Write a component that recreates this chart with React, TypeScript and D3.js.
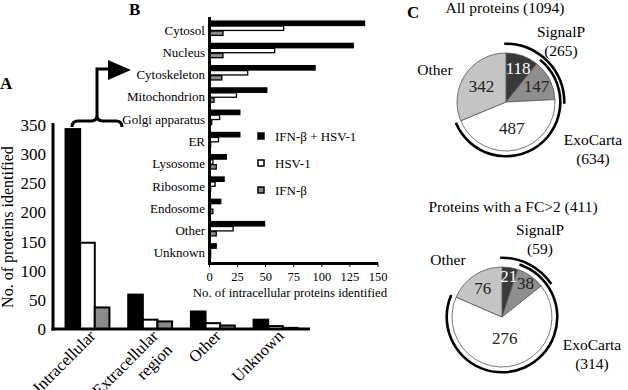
import React from 'react'
import * as d3 from 'd3'

// shared series (panels A and B)
const seriesLabels = ['IFN-β + HSV-1', 'HSV-1', 'IFN-β']
const seriesFills = ['#000000', '#ffffff', '#8a8a8a']

// panel A: subcellular location of all identified proteins
const locationCategories = ['Intracellular', 'Extracellular region', 'Other', 'Unknown']
const locationCombined = [343, 59, 30, 16]
const locationHsv = [148, 16, 10, 5]
const locationIfn = [37, 13, 6, 2]
const locationTicks = [0, 50, 100, 150, 200, 250, 300, 350]

// panel B: intracellular compartments
const compartmentCategories = ['Cytosol', 'Nucleus', 'Cytoskeleton', 'Mitochondrion', 'Golgi apparatus', 'ER', 'Lysosome', 'Ribosome', 'Endosome', 'Other', 'Unknown']
const compartmentCombined = [138, 128, 94, 51, 27, 27, 15, 13, 10, 49, 6]
const compartmentHsv = [66, 58, 34, 24, 9, 8, 3, 5, 1, 21, 1]
const compartmentIfn = [12, 12, 11, 4, 2, 1, 6, 1, 3, 6, 1]
const compartmentTicks = [0, 25, 50, 75, 100, 125, 150]

// panel C: SignalP / ExoCarta overlap (SignalP only, both, ExoCarta only, other)
const allProteinsTitle = 'All proteins (1094)'
const allProteinsSlices = [118, 147, 487, 342]
const fcProteinsTitle = 'Proteins with a FC>2 (411)'
const fcProteinsSlices = [21, 38, 276, 76]
const sliceFills = ['#3a3a3a', '#8e8e8e', '#ffffff', '#c4c4c4']
const sliceTextFills = ['#ffffff', '#222222', '#222222', '#222222']

const FONT = "'Liberation Serif', 'Times New Roman', 'DejaVu Serif', serif"

/**
 * Panel A: grouped vertical bars
 */
const LocationChart = () => {
    const x = d3.scaleBand().domain(locationCategories).range([53, 310]).paddingInner(0.3).paddingOuter(0.2)
    const xSeries = d3.scaleBand().domain(seriesLabels).range([0, x.bandwidth()])
    const y = d3.scaleLinear().domain([0, 350]).range([329, 125])
    const series = [locationCombined, locationHsv, locationIfn]

    return (
        <g>
            {locationCategories.map((cat, i) => (
                <g key={cat} transform={`translate(${x(cat)}, 0)`}>
                    {series.map((values, s) => (
                        <rect
                            key={s}
                            x={xSeries(seriesLabels[s])}
                            y={y(values[i])}
                            width={xSeries.bandwidth()}
                            height={y(0) - y(values[i])}
                            fill={seriesFills[s]}
                            stroke='#000'
                            strokeWidth={2}
                        />
                    ))}
                </g>
            ))}
            <line x1={53} x2={53} y1={123} y2={330.5} stroke='#000' strokeWidth={3} />
            <line x1={51.5} x2={310} y1={329} y2={329} stroke='#000' strokeWidth={3} />
            {locationTicks.map(t => (
                <text key={t} x={46} y={y(t)} dy='0.35em' textAnchor='end' fontSize={17}>{t}</text>
            ))}
            <text transform='translate(13, 227) rotate(-90)' textAnchor='middle' fontSize={16}>
                No. of proteins identified
            </text>
            {locationCategories.map(cat => (
                <text
                    key={cat}
                    transform={`translate(${x(cat) + x.bandwidth() / 2 + 9}, 337) rotate(-45)`}
                    textAnchor='end'
                    fontSize={16.5}
                >
                    {cat.split(' ').map((line, k) => (
                        <tspan key={k} x={0} dy={k === 0 ? 0 : '1.2em'}>{line}</tspan>
                    ))}
                </text>
            ))}
            <text x={0} y={89} fontSize={17} fontWeight='bold'>A</text>
            {/* brace over the intracellular bars and the arrow into panel B */}
            <path
                d='M72,127 Q72,121 78,121 L91,121 Q97,121 97,115 Q97,121 103,121 L116,121 Q122,121 122,127'
                fill='none'
                stroke='#000'
                strokeWidth={3}
            />
            <path d='M97,115 L97,69 L110,69' fill='none' stroke='#000' strokeWidth={3} />
            <path d='M108,60 L131,70 L108,80 Z' fill='#000' />
        </g>
    )
}

/**
 * Panel B: grouped horizontal bars
 */
const CompartmentChart = () => {
    const y = d3.scaleBand().domain(compartmentCategories).range([18, 263])
    const ySeries = d3.scaleBand().domain(seriesLabels).range([2.5, 18]).padding(0.12)
    const x = d3.scaleLinear().domain([0, 150]).range([209.5, 378])
    const series = [compartmentCombined, compartmentHsv, compartmentIfn]

    return (
        <g>
            {compartmentCategories.map((cat, i) => (
                <g key={cat} transform={`translate(0, ${y(cat)})`}>
                    {series.map((values, s) => (
                        <rect
                            key={s}
                            x={x(0)}
                            y={ySeries(seriesLabels[s])}
                            width={x(values[i]) - x(0)}
                            height={ySeries.bandwidth()}
                            fill={seriesFills[s]}
                            stroke='#000'
                            strokeWidth={1.3}
                        />
                    ))}
                    <text x={205} y={y.bandwidth() / 2 + 1} dy='0.35em' textAnchor='end' fontSize={13}>{cat}</text>
                </g>
            ))}
            <line x1={209.5} x2={209.5} y1={17} y2={264.5} stroke='#000' strokeWidth={3} />
            <line x1={208} x2={378} y1={263.5} y2={263.5} stroke='#000' strokeWidth={3} />
            {compartmentTicks.map(t => (
                <g key={t}>
                    <line x1={x(t)} x2={x(t)} y1={263} y2={267} stroke='#000' strokeWidth={1} />
                    <text x={x(t)} y={281} textAnchor='middle' fontSize={12.5}>{t}</text>
                </g>
            ))}
            <text x={290} y={297} textAnchor='middle' fontSize={12.8}>No. of intracellular proteins identified</text>
            <text x={129} y={15} fontSize={17} fontWeight='bold'>B</text>
            {seriesLabels.map((label, s) => (
                <g key={label} transform={`translate(258, ${133 + s * 27})`}>
                    <rect width={6} height={6} fill={seriesFills[s]} stroke='#000' strokeWidth={1.5} />
                    <text x={17} y={3} dy='0.35em' fontSize={13}>{label}</text>
                </g>
            ))}
        </g>
    )
}

interface PieProps {
    cx: number,
    cy: number,
    r: number,
    values: number[],
    title: string,
    titleY: number,
    titleX: number,
    labelRadii: number[],
    signalP: string,
    signalPAt: number[],
    exoCarta: string,
    exoCartaAt: number[],
    otherAt: number[]
}

/**
 * Panel C: pie with SignalP / ExoCarta arcs drawn outside
 */
const OverlapPie = (props: PieProps) => {
    const { cx, cy, r, values } = props
    const slices = d3.pie<number>().sort(null).value(d => d)(values)
    const arc = d3.arc<d3.PieArcDatum<number>>().innerRadius(0).outerRadius(r)
    const ring = (inner: number, start: number, end: number) =>
        d3.arc()({ innerRadius: inner, outerRadius: inner + 2.6, startAngle: start, endAngle: end })

    return (
        <g fontSize={15.5}>
            <text x={props.titleX} y={props.titleY} textAnchor='middle'>{props.title}</text>
            <g transform={`translate(${cx}, ${cy})`}>
                {slices.map((s, i) => (
                    <path key={i} d={arc(s)} fill={sliceFills[i]} stroke='#555' strokeWidth={0.8} />
                ))}
                {slices.map((s, i) => {
                    const mid = (s.startAngle + s.endAngle) / 2
                    const rr = r * props.labelRadii[i]
                    return (
                        <text
                            key={i}
                            x={Math.sin(mid) * rr}
                            y={-Math.cos(mid) * rr}
                            dy='0.35em'
                            textAnchor='middle'
                            fontSize={17}
                            fill={sliceTextFills[i]}
                        >
                            {values[i]}
                        </text>
                    )
                })}
                <path d={ring(r + 4, slices[1].startAngle, slices[2].endAngle)} fill='#000' />
                <path d={ring(r + 8, slices[0].startAngle - 0.03, slices[1].endAngle + 0.08)} fill='#000' />
            </g>
            <text x={props.signalPAt[0]} y={props.signalPAt[1]} textAnchor='middle'>
                <tspan x={props.signalPAt[0]}>SignalP</tspan>
                <tspan x={props.signalPAt[0]} dy='1.2em'>{props.signalP}</tspan>
            </text>
            <text x={props.otherAt[0]} y={props.otherAt[1]} textAnchor='middle'>Other</text>
            <text x={props.exoCartaAt[0]} y={props.exoCartaAt[1]} textAnchor='middle'>
                <tspan x={props.exoCartaAt[0]}>ExoCarta</tspan>
                <tspan x={props.exoCartaAt[0]} dy='1.2em'>{props.exoCarta}</tspan>
            </text>
        </g>
    )
}

export default function App () {
    return (
        <svg
            width={628}
            height={390}
            style={{ position: 'absolute', left: 0, top: 0, background: '#fff', fontFamily: FONT }}
        >
            <rect width={628} height={390} fill='#fff' />
            <LocationChart />
            <CompartmentChart />
            <text x={407} y={18} fontSize={17} fontWeight='bold'>C</text>
            <OverlapPie
                cx={506}
                cy={102}
                r={49}
                values={allProteinsSlices}
                title={allProteinsTitle}
                titleX={505}
                titleY={13}
                labelRadii={[0.74, 0.7, 0.54, 0.6]}
                signalP='(265)'
                signalPAt={[561, 37]}
                exoCarta='(634)'
                exoCartaAt={[593, 145]}
                otherAt={[435, 75]}
            />
            <OverlapPie
                cx={502}
                cy={317}
                r={50}
                values={fcProteinsSlices}
                title={fcProteinsTitle}
                titleX={513}
                titleY={212}
                labelRadii={[0.84, 0.82, 0.42, 0.7]}
                signalP='(59)'
                signalPAt={[540, 235]}
                exoCarta='(314)'
                exoCartaAt={[592, 350]}
                otherAt={[448, 265]}
            />
        </svg>
    )
}
